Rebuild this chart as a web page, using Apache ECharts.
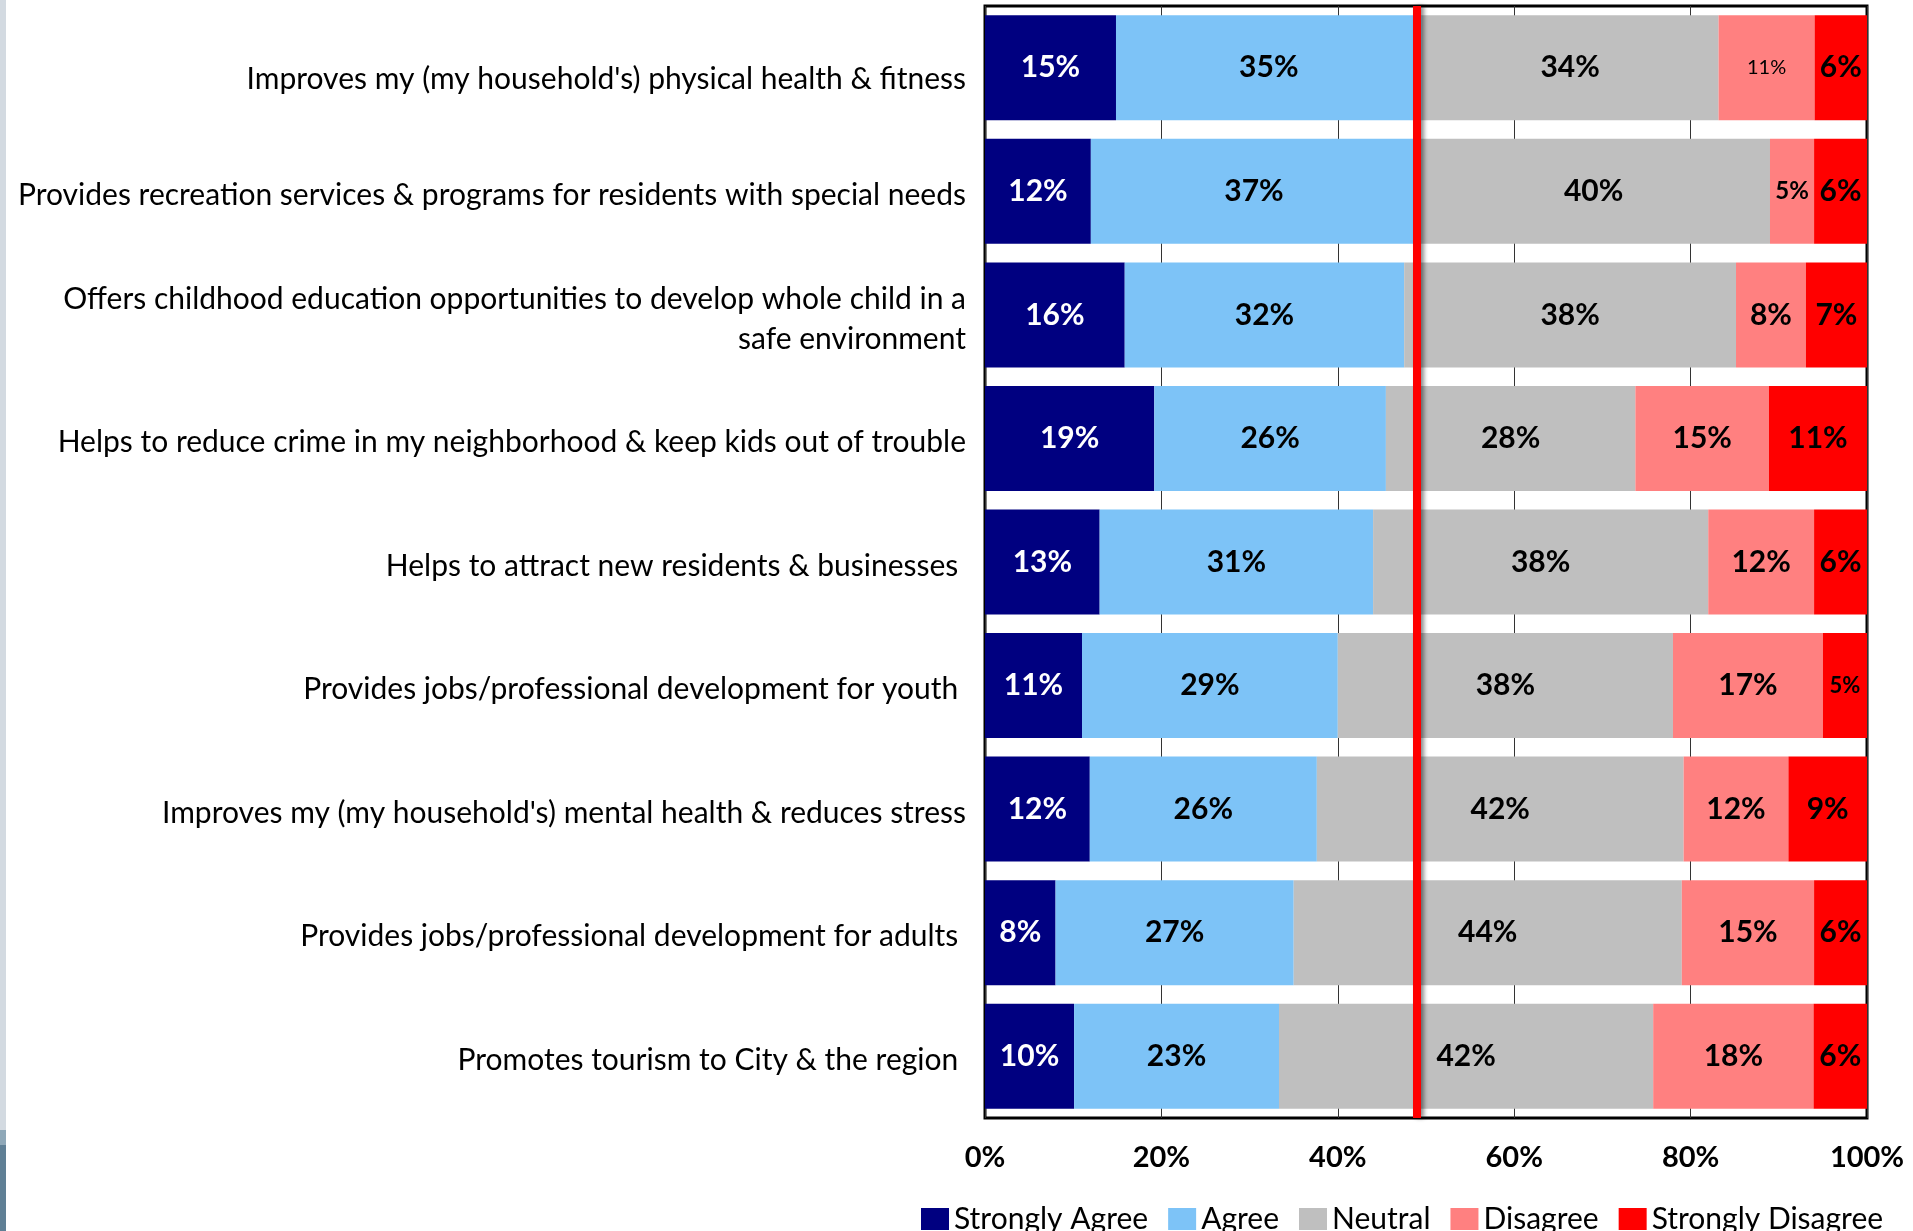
<!DOCTYPE html>
<html>
<head>
<meta charset="utf-8">
<script src="https://cdn.jsdelivr.net/npm/echarts@6/dist/echarts.min.js"></script>
<style>
  html, body { margin: 0; padding: 0; background: #fff; }
  #chart { width: 1913px; height: 1231px; }
</style>
</head>
<body>
<div id="chart"></div>
<script>
const categories = [
  "Improves my (my household's) physical health & fitness",
  "Provides recreation services & programs for residents with special needs",
  "Offers childhood education opportunities to develop whole child in a\nsafe environment",
  "Helps to reduce crime in my neighborhood & keep kids out of trouble",
  "Helps to attract new residents & businesses ",
  "Provides jobs/professional development for youth ",
  "Improves my (my household's) mental health & reduces stress",
  "Provides jobs/professional development for adults ",
  "Promotes tourism to City & the region "
];
const seriesNames = ["Strongly Agree", "Agree", "Neutral", "Disagree", "Strongly Disagree"];
const strongAgree    = [15, 12, 16, 19, 13, 11, 12, 8, 10];
const agree          = [35, 37, 32, 26, 31, 29, 26, 27, 23];
const neutral        = [34, 40, 38, 28, 38, 38, 42, 44, 42];
const disagree       = [11, 5, 8, 15, 12, 17, 12, 15, 18];
const strongDisagree = [6, 6, 7, 11, 6, 5, 9, 6, 6];
const xTickValues = [0, 20, 40, 60, 80, 100];
const referenceLine = 49;

const values = [strongAgree, agree, neutral, disagree, strongDisagree];
const colors = ["#000080", "#7DC3F7", "#BFBFBF", "#FF8080", "#FF0000"];
const labelColors = ["#FFFFFF", "#000000", "#000000", "#000000", "#000000"];
// smaller data labels (series index -> row index -> font settings)
const smallLabels = {
  3: { 0: { fontSize: 20, fontWeight: "normal" }, 1: { fontSize: 24, fontWeight: "bold" } },
  4: { 5: { fontSize: 22, fontWeight: "bold" } }
};
const rowTotals = categories.map((c, i) => values.reduce((s, arr) => s + arr[i], 0));

const FONT = "Lato";

const series = values.map((arr, si) => {
  const s = {
    name: seriesNames[si],
    type: "bar",
    stack: "total",
    barCategoryGap: "15%",
    itemStyle: { color: colors[si] },
    label: {
      show: true,
      position: "inside",
      color: labelColors[si],
      fontFamily: FONT,
      fontWeight: "bold",
      fontSize: 30,
      formatter: (p) => arr[p.dataIndex] + "%"
    },
    data: arr.map((v, ri) => {
      const item = { value: v / rowTotals[ri] * 100 };
      if (smallLabels[si] && smallLabels[si][ri]) {
        item.label = Object.assign({}, smallLabels[si][ri]);
      }
      return item;
    })
  };
  if (si === 0) {
    s.markLine = {
      silent: true,
      symbol: "none",
      label: { show: false },
      lineStyle: {
        color: "#FF0000",
        type: "solid",
        width: 8,
        shadowColor: "rgba(0,0,0,0.45)",
        shadowBlur: 4,
        shadowOffsetX: 3
      },
      data: [{ xAxis: referenceLine }],
      z: 10
    };
  }
  return s;
});

const chart = echarts.init(document.getElementById("chart"), null, { renderer: "canvas" });
chart.setOption({
  backgroundColor: "#FFFFFF",
  animation: false,
  textStyle: { fontFamily: FONT },
  graphic: [
    { type: "rect", left: 0, top: 0, shape: { width: 6, height: 1130 }, style: { fill: "#D3DAE1" }, silent: true },
    { type: "rect", left: 0, top: 1130, shape: { width: 6, height: 15 }, style: { fill: "#8FA8B8" }, silent: true },
    { type: "rect", left: 0, top: 1145, shape: { width: 6, height: 86 }, style: { fill: "#5F7F95" }, silent: true }
  ],
  grid: {
    left: 985, right: 46, top: 6, bottom: 113,
    show: true, borderColor: "#000000", borderWidth: 3, backgroundColor: "#FFFFFF"
  },
  legend: {
    data: seriesNames,
    left: 916,
    top: 1199,
    icon: "rect",
    itemWidth: 28,
    itemHeight: 22,
    itemGap: 20,
    textStyle: { fontFamily: FONT, fontSize: 30, color: "#000000" }
  },
  xAxis: {
    type: "value",
    min: xTickValues[0],
    max: xTickValues[xTickValues.length - 1],
    interval: xTickValues[1] - xTickValues[0],
    axisLine: { show: false },
    axisTick: { show: false },
    splitLine: { show: true, lineStyle: { color: "#333333", width: 1 } },
    axisLabel: {
      formatter: "{value}%",
      fontFamily: FONT,
      fontWeight: "bold",
      fontSize: 29,
      color: "#000000",
      margin: 25
    }
  },
  yAxis: {
    type: "category",
    data: categories,
    inverse: true,
    axisLine: { show: false },
    axisTick: { show: false },
    splitLine: { show: false },
    axisLabel: {
      fontFamily: FONT,
      fontSize: 30,
      lineHeight: 40,
      color: "#000000",
      margin: 19,
      align: "right",
      padding: [8, 0, 0, 0],
      formatter: (v, i) => (i === 0 ? "{first|" + v + "}" : v),
      rich: {
        first: { fontFamily: FONT, fontSize: 30, lineHeight: 40, color: "#000000", padding: [16, 0, 0, 0] }
      }
    }
  },
  series: series
});
</script>
</body>
</html>
